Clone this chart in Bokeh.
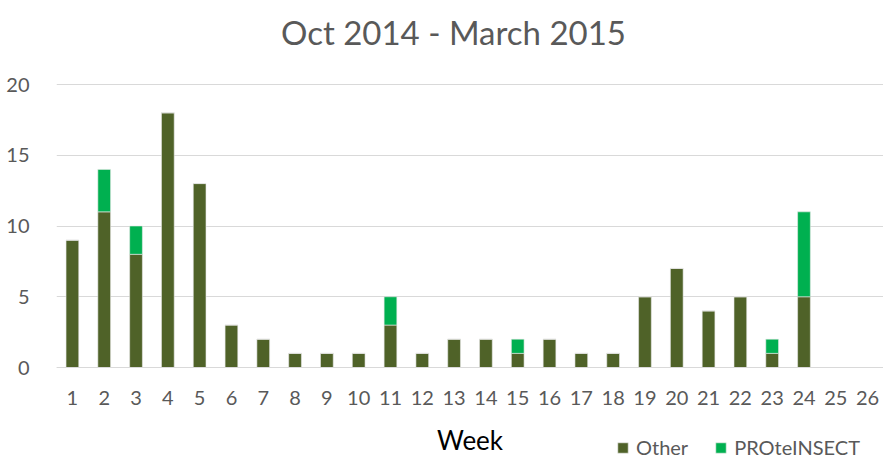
from bokeh.plotting import figure
from bokeh.models import FactorRange, Range1d, Legend, LegendItem, Label, FixedTicker
from bokeh.embed import file_html
from bokeh.resources import INLINE

weeks = [str(i) for i in range(1, 27)]
other = [9, 11, 8, 18, 13, 3, 2, 1, 1, 1, 3, 1, 2, 2, 1, 2, 1, 1, 5, 7, 4, 5, 1, 5, 0, 0]
proteinsect = [0, 3, 2, 0, 0, 0, 0, 0, 0, 0, 2, 0, 0, 0, 1, 0, 0, 0, 0, 0, 0, 0, 1, 6, 0, 0]
series = ["Other", "PROteINSECT"]
colors = ["#4F6228", "#00B050"]
y_ticks = [0, 5, 10, 15, 20]
title_text = "Oct 2014 - March 2015"
x_label = "Week"

FONT = "Lato"
GREY = "#595959"

# frame spans the whole canvas vertically; value axis scaled so 0..20 sits in the plot area
W, H = 883, 459
PLOT_TOP, PLOT_BOTTOM = 84, 367
ppu = (PLOT_BOTTOM - PLOT_TOP) / 20.0
y_min = -(H - PLOT_BOTTOM) / ppu
y_max = 20 + PLOT_TOP / ppu

p = figure(x_range=FactorRange(*weeks), y_range=Range1d(y_min, y_max),
           width=W, height=H, output_backend="svg", toolbar_location=None,
           title_location=None,
           min_border_left=56, min_border_right=0, min_border_top=0, min_border_bottom=0)
p.outline_line_color = None

data = {"weeks": weeks, "Other": other, "PROteINSECT": proteinsect}
renderers = p.vbar_stack(series, x="weeks", width=0.4, source=data, color=colors,
                         line_color="#E8E8E8", line_width=0.6)

p.xgrid.grid_line_color = None
p.ygrid.grid_line_color = "#D9D9D9"
p.ygrid.grid_line_width = 1.2
p.yaxis.ticker = FixedTicker(ticks=y_ticks)

p.yaxis.axis_line_color = None
p.yaxis.major_tick_line_color = None
p.yaxis.minor_tick_line_color = None
p.yaxis.major_label_text_font = FONT
p.yaxis.major_label_text_font_size = "20px"
p.yaxis.major_label_text_color = GREY
p.yaxis.major_label_standoff = 21

p.xaxis.fixed_location = 0
p.xaxis.axis_line_color = "#D9D9D9"
p.xaxis.axis_line_width = 1.2
p.xaxis.major_tick_line_color = None
p.xaxis.minor_tick_line_color = None
p.xaxis.major_label_text_font = FONT
p.xaxis.major_label_text_font_size = "20px"
p.xaxis.major_label_text_color = GREY
p.xaxis.major_label_standoff = 17
p.xaxis.axis_label = x_label
p.xaxis.axis_label_text_font = FONT
p.xaxis.axis_label_text_font_style = "normal"
p.xaxis.axis_label_text_font_size = "26px"
p.xaxis.axis_label_text_color = "#000000"
p.xaxis.axis_label_standoff = 16

title = Label(x=12.48, y=20 + (PLOT_TOP - 31) / ppu, text=title_text,
              text_align="center", text_baseline="middle",
              text_font=FONT, text_font_size="33px", text_color=GREY)
p.add_layout(title)

legend = Legend(items=[LegendItem(label=s, renderers=[r]) for s, r in zip(series, renderers)],
                orientation="horizontal", location=(560, 0),
                label_text_font=FONT, label_text_font_size="20px", label_text_color=GREY,
                glyph_width=13, glyph_height=13, spacing=26, label_standoff=7,
                background_fill_alpha=0, border_line_color=None, padding=0, margin=0)
p.add_layout(legend, "center")

open("out.html", "w").write(file_html(p, INLINE))
